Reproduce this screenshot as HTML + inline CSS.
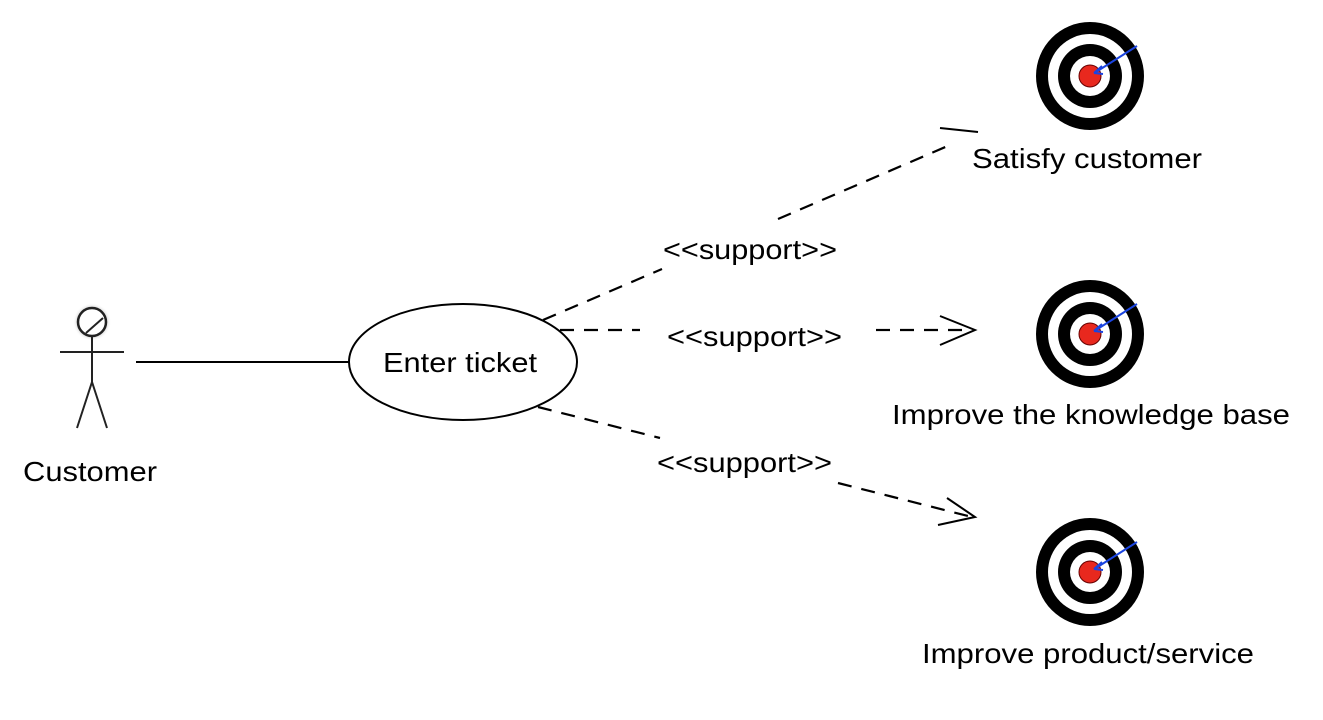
<!DOCTYPE html>
<html><head><meta charset="utf-8"><style>
html,body{margin:0;padding:0;background:#fff;width:1323px;height:720px;overflow:hidden}
svg{display:block}
text{font-family:"Liberation Sans",sans-serif;font-size:28px;fill:#000}
</style></head><body>
<svg width="1323" height="720" viewBox="0 0 1323 720">
<defs>
<radialGradient id="sh"><stop offset="0.6" stop-color="#888"/><stop offset="1" stop-color="#fff" stop-opacity="0"/></radialGradient>
<g id="tgt">
<circle r="54" fill="#000"/><circle r="42" fill="#fff"/><circle r="32" fill="#000"/><circle r="20" fill="#fff"/>
<circle r="11" fill="#e8281e" stroke="#600" stroke-width="1"/>
<line x1="47" y1="-30" x2="6" y2="-4" stroke="#1a44e0" stroke-width="2"/>
<path d="M4,-3 L12,-10 M4,-3 L13,-2" stroke="#1a44e0" stroke-width="2" fill="none"/>
</g>
</defs>
<circle cx="92" cy="322" r="19" fill="url(#sh)"/>
<circle cx="92" cy="322" r="14" fill="#fff" stroke="#222" stroke-width="2.5"/>
<line x1="86" y1="333" x2="103" y2="318" stroke="#222" stroke-width="2"/>
<g stroke="#222" stroke-width="2" fill="none">
<line x1="60" y1="352" x2="124" y2="352"/>
<line x1="92" y1="336" x2="92" y2="382"/>
<path d="M77,428 L92,382 L107,428"/>
</g>
<text x="23" y="481" textLength="134" lengthAdjust="spacingAndGlyphs">Customer</text>
<line x1="136" y1="362" x2="349" y2="362" stroke="#000" stroke-width="2"/>
<ellipse cx="463" cy="362" rx="114" ry="58" fill="#fff" stroke="#000" stroke-width="2"/>
<text x="383" y="372" textLength="154" lengthAdjust="spacingAndGlyphs">Enter ticket</text>
<g stroke="#000" stroke-width="2.2" fill="none" stroke-dasharray="14,10">
<line x1="543" y1="320" x2="662" y2="269"/>
<line x1="778" y1="219" x2="950" y2="145"/>
<line x1="560" y1="330" x2="640" y2="330"/>
<line x1="876" y1="330" x2="972" y2="330"/>
<line x1="538" y1="407" x2="660" y2="438"/>
<line x1="838" y1="483" x2="972" y2="517"/>
</g>
<g stroke="#000" stroke-width="2" fill="none">
<line x1="940" y1="128" x2="978" y2="132"/>
<path d="M940,316 L975,330 L940,345"/>
<path d="M947,498 L975,517 L938,525"/>
</g>
<text x="663" y="259" textLength="174" lengthAdjust="spacingAndGlyphs">&lt;&lt;support&gt;&gt;</text>
<text x="667" y="346" textLength="175" lengthAdjust="spacingAndGlyphs">&lt;&lt;support&gt;&gt;</text>
<text x="657" y="472" textLength="175" lengthAdjust="spacingAndGlyphs">&lt;&lt;support&gt;&gt;</text>
<use href="#tgt" x="1090" y="76"/>
<use href="#tgt" x="1090" y="334"/>
<use href="#tgt" x="1090" y="572"/>
<text x="972" y="168" textLength="230" lengthAdjust="spacingAndGlyphs">Satisfy customer</text>
<text x="892" y="424" textLength="398" lengthAdjust="spacingAndGlyphs">Improve the knowledge base</text>
<text x="922" y="663" textLength="332" lengthAdjust="spacingAndGlyphs">Improve product/service</text>
</svg>
</body></html>
